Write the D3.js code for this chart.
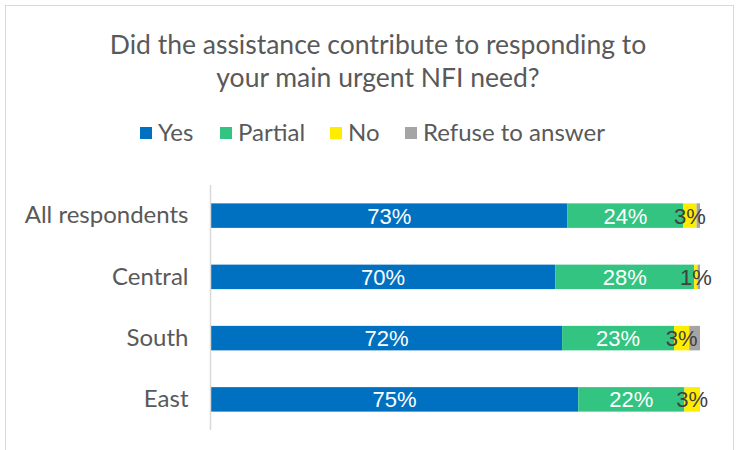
<!DOCTYPE html>
<html>
<head>
<meta charset="utf-8">
<script src="https://cdn.jsdelivr.net/npm/d3@7"></script>
<style>
  body { margin: 0; background: #fff; }
  text { font-family: Lato, "Open Sans", Arial, sans-serif; }
</style>
</head>
<body>
<div id="chart"></div>
<script>
// Chart data
const categories = ["All respondents", "Central", "South", "East"];
const seriesNames = ["Yes", "Partial", "No", "Refuse to answer"];
const yesValues = [72.9, 70.4, 71.8, 75.1];
const partialValues = [23.7, 28.4, 22.9, 21.7];
const noValues = [2.7, 0.7, 3.1, 3.2];
const refuseValues = [0.7, 0.5, 2.2, 0.0];
const colors = ["#0070c0", "#33c481", "#ffed00", "#a5a5a5"];

const width = 737, height = 450;

const svg = d3.select("#chart").append("svg")
    .attr("width", width)
    .attr("height", height)
    .style("display", "block");

// outer frame
svg.append("rect")
    .attr("x", 5.5).attr("y", 5.5)
    .attr("width", 728).attr("height", 460)
    .attr("fill", "#fff")
    .attr("stroke", "#d9d9d9");

// title
const title = svg.append("text")
    .attr("text-anchor", "middle")
    .attr("fill", "#595959")
    .style("font-size", "26.5px");
title.append("tspan").attr("x", 378).attr("y", 54).text("Did the assistance contribute to responding to");
title.append("tspan").attr("x", 378).attr("y", 87).text("your main urgent NFI need?");

// legend
const legendX = [140, 220, 330, 405];
const legend = svg.append("g").selectAll("g")
    .data(seriesNames)
    .enter()
    .append("g")
    .attr("transform", (d, i) => `translate(${legendX[i]},141)`);
legend.append("rect")
    .attr("x", 0).attr("y", -14)
    .attr("width", 12).attr("height", 12)
    .attr("fill", (d, i) => colors[i]);
legend.append("text")
    .attr("x", 18).attr("y", 0)
    .attr("fill", "#595959")
    .style("font-size", "24px")
    .text(d => d);

// scales
const x = d3.scaleLinear()
    .domain([0, 100])
    .range([211, 700]);

const y = d3.scaleBand()
    .domain(categories)
    .range([185, 430])
    .paddingInner(0.6)
    .paddingOuter(0.3);

const rows = categories.map((c, i) => ({
    category: c,
    Yes: yesValues[i],
    Partial: partialValues[i],
    No: noValues[i],
    "Refuse to answer": refuseValues[i]
}));

const stacked = d3.stack().keys(seriesNames)(rows);

const layer = svg.append("g").selectAll("g")
    .data(stacked)
    .enter()
    .append("g")
    .attr("fill", (d, i) => colors[i]);

layer.selectAll("rect")
    .data(d => d)
    .enter()
    .append("rect")
    .attr("x", d => x(d[0]))
    .attr("y", d => y(d.data.category))
    .attr("width", d => Math.max(0, x(d[1]) - x(d[0])))
    .attr("height", y.bandwidth());

// data labels (gray series has none)
const labelColors = ["#fff", "#fff", "#404040"];
stacked.slice(0, 3).forEach((series, i) => {
    svg.append("g").selectAll("text")
        .data(series)
        .enter()
        .append("text")
        .attr("x", d => (x(d[0]) + x(d[1])) / 2)
        .attr("y", d => y(d.data.category) + y.bandwidth() / 2)
        .attr("dy", "0.36em")
        .attr("text-anchor", "middle")
        .attr("fill", labelColors[i])
        .style("font-family", "'Liberation Sans', Arial, sans-serif")
        .style("font-size", "22px")
        .text(d => Math.round(d[1] - d[0]) + "%");
});

// axis
const yAxis = svg.append("g")
    .attr("transform", "translate(210.5,0)")
    .call(d3.axisLeft(y).tickSize(0).tickPadding(22));
yAxis.select(".domain").attr("stroke", "#d9d9d9").attr("stroke-width", 1.5)
    .attr("d", "M0,185V430");
yAxis.selectAll("text")
    .attr("fill", "#595959")
    .style("font-size", "24px")
    .style("font-family", "Lato, 'Open Sans', Arial, sans-serif");
</script>
</body>
</html>
